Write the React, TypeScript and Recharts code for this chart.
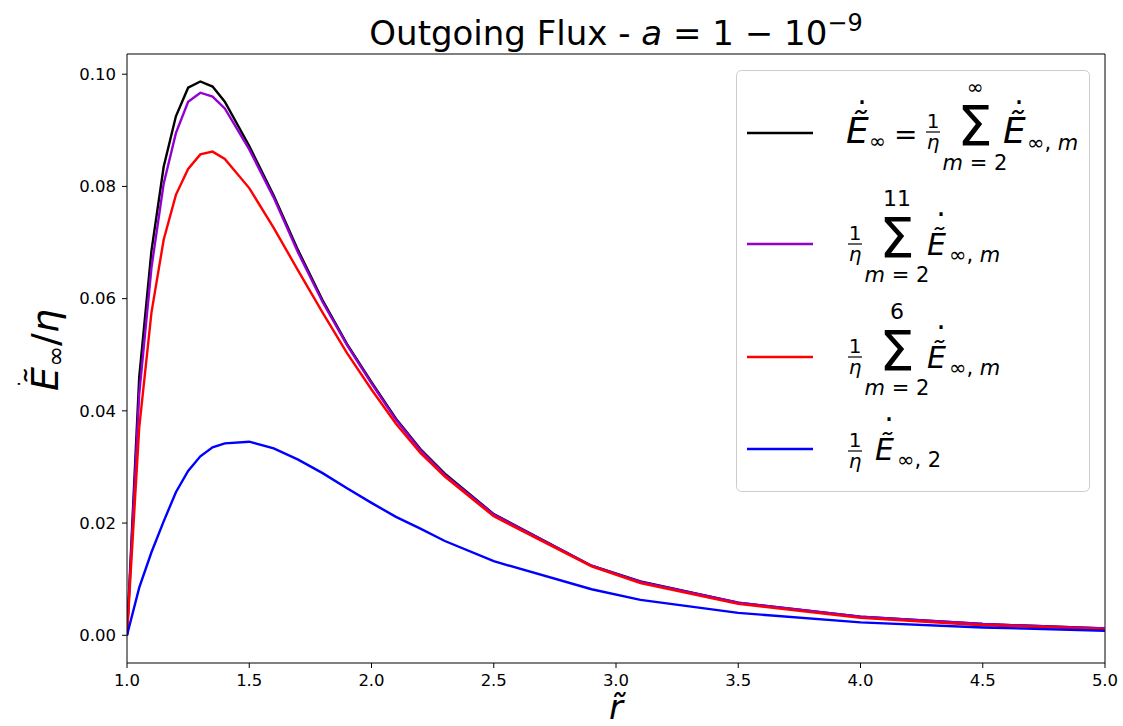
import React from 'react';
import { LineChart, Line, XAxis, YAxis, ReferenceLine } from 'recharts';

// r~ sample points and the flux curves
const R_VALUES = [1.0, 1.05, 1.1, 1.15, 1.2, 1.25, 1.3, 1.35, 1.4, 1.5, 1.6, 1.7, 1.8, 1.9, 2.0, 2.1, 2.2, 2.3, 2.5, 2.9, 3.1, 3.5, 4.0, 4.5, 5.0];
const FLUX_TOTAL = [0, 0.046, 0.0685, 0.0835, 0.0925, 0.0976, 0.0987, 0.0978, 0.0951, 0.0872, 0.0784, 0.0686, 0.0597, 0.0519, 0.0451, 0.0386, 0.0332, 0.0288, 0.0216, 0.0124, 0.0096, 0.0058, 0.0033, 0.002, 0.0012];
const FLUX_M11 = [0, 0.043, 0.0655, 0.0805, 0.0895, 0.0951, 0.0967, 0.096, 0.0939, 0.0866, 0.078, 0.0682, 0.0594, 0.0517, 0.0449, 0.0384, 0.033, 0.0286, 0.0215, 0.0124, 0.0095, 0.0058, 0.0033, 0.002, 0.0012];
const FLUX_M6 = [0, 0.037, 0.0575, 0.0705, 0.0785, 0.0831, 0.0857, 0.0862, 0.0849, 0.0797, 0.0726, 0.065, 0.0575, 0.0503, 0.0438, 0.0377, 0.0325, 0.0283, 0.0212, 0.0123, 0.0093, 0.0056, 0.0031, 0.0018, 0.0011];
const FLUX_M2 = [0, 0.0085, 0.0148, 0.0203, 0.0255, 0.0293, 0.0319, 0.0335, 0.0342, 0.0345, 0.0333, 0.0313, 0.0289, 0.0262, 0.0236, 0.0211, 0.019, 0.0168, 0.0132, 0.0082, 0.0063, 0.004, 0.0023, 0.0014, 0.0008];

const X_TICKS = [1.0, 1.5, 2.0, 2.5, 3.0, 3.5, 4.0, 4.5, 5.0];
const Y_TICKS = [0, 0.02, 0.04, 0.06, 0.08, 0.1];
const X_DOMAIN = [1, 5];
const Y_DOMAIN = [-0.00494, 0.1036];

const rows = R_VALUES.map((r, i) => ({
  r,
  total: FLUX_TOTAL[i],
  m11: FLUX_M11[i],
  m6: FLUX_M6[i],
  m2: FLUX_M2[i],
}));

const FONT = "'DejaVu Sans', sans-serif";
const ETILDE = 'E\u0303';

const tickStyle = { fill: '#000', fontSize: 16.5, fontFamily: FONT };

// dot accent drawn as a period
const Dot = ({ x, y, size = 30 }: { x: number; y: number; size?: number }) => (
  <text x={x} y={y + 2} textAnchor="middle" fontSize={size}>.</text>
);

// 1/eta small fraction
const Frac = ({ cx, y }: { cx: number; y: number }) => (
  <g>
    <text x={cx} y={y - 4} textAnchor="middle" fontSize={20}>1</text>
    <line x1={cx - 7} x2={cx + 7} y1={y} y2={y} stroke="#000" strokeWidth={1.2} />
    <text x={cx} y={y + 17} textAnchor="middle" fontSize={20} fontStyle="italic">η</text>
  </g>
);

// big sum with limits
const Sum = ({ cx, y, upper }: { cx: number; y: number; upper: string }) => (
  <g>
    <text x={cx} y={y} textAnchor="middle" fontSize={56}>Σ</text>
    <text x={cx} y={y - 51} textAnchor="middle" fontSize={upper === '∞' ? 20 : 22}>{upper}</text>
    <text x={cx} y={y + 25} textAnchor="middle" fontSize={21}>
      <tspan fontStyle="italic">m</tspan> = 2
    </text>
  </g>
);

const LegendBox = () => {
  const lineYs = [133, 244, 357, 449];
  const colors = ['#000000', '#9400d3', '#ff0000', '#0000ff'];
  return (
    <g fontFamily={FONT} fill="#000">
      <rect x={736.5} y={70.5} width={353} height={421} rx={5} fill="#fff" fillOpacity={0.8} stroke="#cccccc" />
      {lineYs.map((y, i) => (
        <line key={i} x1={747} x2={813} y1={y} y2={y} stroke={colors[i]} strokeWidth={2.4} />
      ))}
      {/* entry 1 */}
      <text x={846} y={143} fontSize={36} fontStyle="italic">{ETILDE}</text>
      <Dot x={862} y={102} />
      <text x={869} y={148} fontSize={20}>∞</text>
      <text x={894} y={144} fontSize={28}>=</text>
      <Frac cx={933} y={132} />
      <Sum cx={975} y={145} upper="∞" />
      <text x={1003} y={143} fontSize={36} fontStyle="italic">{ETILDE}</text>
      <Dot x={1019} y={102} />
      <text x={1027} y={150} fontSize={21}>∞, <tspan fontStyle="italic">m</tspan></text>
      {/* entry 2 and 3 */}
      {[0, 113].map((dy, k) => (
        <g key={k}>
          <Frac cx={855} y={244 + dy} />
          <Sum cx={897} y={257 + dy} upper={k === 0 ? '11' : '6'} />
          <text x={927} y={255 + dy} fontSize={30} fontStyle="italic">{ETILDE}</text>
          <Dot x={941} y={214 + dy} />
          <text x={949} y={262 + dy} fontSize={21}>∞, <tspan fontStyle="italic">m</tspan></text>
        </g>
      ))}
      {/* entry 4 */}
      <Frac cx={855} y={451} />
      <text x={875} y={460} fontSize={30} fontStyle="italic">{ETILDE}</text>
      <Dot x={889} y={419} />
      <text x={897} y={467} fontSize={21}>∞, 2</text>
    </g>
  );
};

export default function App() {
  return (
    <div style={{ position: 'absolute', left: 0, top: 0, width: 1123, height: 726, background: '#fff' }}>
      <LineChart width={1123} height={726} data={rows} margin={{ top: 54, right: 18, left: 67, bottom: 33 }}>
        <XAxis
          dataKey="r"
          type="number"
          domain={X_DOMAIN}
          ticks={X_TICKS}
          allowDataOverflow
          tickFormatter={(v: number) => v.toFixed(1)}
          tick={tickStyle}
          tickSize={5}
          tickMargin={6}
          height={30}
          axisLine={{ stroke: '#000' }}
          tickLine={{ stroke: '#000' }}
        />
        <YAxis
          type="number"
          domain={Y_DOMAIN}
          ticks={Y_TICKS}
          allowDataOverflow
          tickFormatter={(v: number) => v.toFixed(2)}
          tick={tickStyle}
          tickSize={5}
          tickMargin={6}
          width={60}
          axisLine={{ stroke: '#000' }}
          tickLine={{ stroke: '#000' }}
        />
        {/* top and right spines of the frame */}
        <ReferenceLine y={Y_DOMAIN[1]} stroke="#000" ifOverflow="visible" />
        <ReferenceLine x={X_DOMAIN[1]} stroke="#000" ifOverflow="visible" />
        <Line type="linear" dataKey="total" stroke="#000000" strokeWidth={2.4} dot={false} isAnimationActive={false} />
        <Line type="linear" dataKey="m11" stroke="#9400d3" strokeWidth={2.4} dot={false} isAnimationActive={false} />
        <Line type="linear" dataKey="m6" stroke="#ff0000" strokeWidth={2.4} dot={false} isAnimationActive={false} />
        <Line type="linear" dataKey="m2" stroke="#0000ff" strokeWidth={2.4} dot={false} isAnimationActive={false} />
      </LineChart>
      <svg width={1123} height={726} style={{ position: 'absolute', left: 0, top: 0, pointerEvents: 'none' }}>
        <text x={616} y={45} textAnchor="middle" fontFamily={FONT} fontSize={34} fill="#000">
          Outgoing Flux - <tspan fontStyle="italic">a</tspan> = 1 − 10<tspan fontSize={24} dy={-14}>−9</tspan>
        </text>
        <g transform="translate(58,350) rotate(-90)" fontFamily={FONT} fill="#000">
          <text x={0} y={0} textAnchor="middle" fontSize={38}>
            <tspan fontStyle="italic">{ETILDE}</tspan>
            <tspan fontSize={25} dy={6}>∞</tspan>
            <tspan dy={-6}>/</tspan>
            <tspan fontStyle="italic">η</tspan>
          </text>
          <Dot x={-34} y={-40} size={18} />
        </g>
        <text x={616} y={719} textAnchor="middle" fontFamily={FONT} fontSize={34} fontStyle="italic" fill="#000">
          {'r\u0303'}
        </text>
        <LegendBox />
      </svg>
    </div>
  );
}
